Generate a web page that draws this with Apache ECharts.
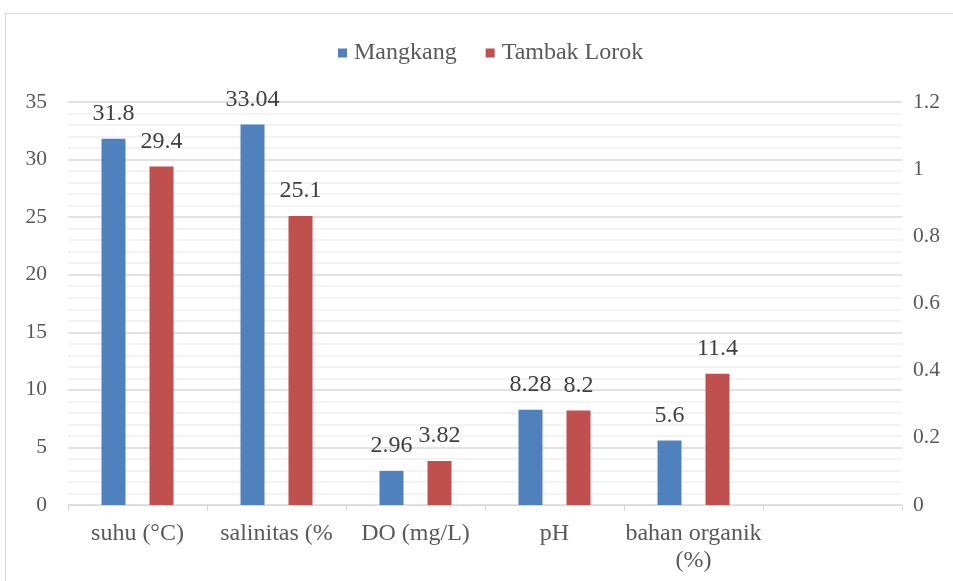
<!DOCTYPE html>
<html>
<head>
<meta charset="utf-8">
<script src="https://cdn.jsdelivr.net/npm/echarts@6/dist/echarts.min.js"></script>
<style>
  html, body { margin: 0; padding: 0; background: #fff; }
  #wrap { position: relative; width: 953px; height: 581px; overflow: hidden; }
  #frame { position: absolute; left: 5px; top: 13px; width: 960px; height: 600px; border: 1px solid #d9d9d9; box-sizing: border-box; }
  #chart { position: absolute; left: 0; top: 0; width: 953px; height: 581px; }
</style>
</head>
<body>
<div id="wrap">
  <div id="frame"></div>
  <div id="chart"></div>
</div>
<script>
  // data
  var categories = ['suhu (°C)', 'salinitas (%', 'DO (mg/L)', 'pH', 'bahan organik\n(%)', '']
  var mangkang = [31.8, 33.04, 2.96, 8.28, 5.6, null]
  var tambakLorok = [29.4, 25.1, 3.82, 8.2, 11.4, null]
  var leftTicks = { min: 0, max: 35, interval: 5 }
  var rightTicks = { min: 0, max: 1.2, interval: 0.2 }

  var font = 'Liberation Serif'
  var textColor = '#595959'
  var fs = 24      // legend, category and data labels
  var axisFs = 21.5 // value axis labels

  var chart = echarts.init(document.getElementById('chart'))
  chart.setOption({
    animation: false,
    textStyle: { fontFamily: font, color: textColor },
    legend: {
      top: 36,
      left: 333,
      icon: 'rect',
      itemWidth: 9,
      itemHeight: 9,
      itemGap: 29,
      textStyle: { fontFamily: font, fontSize: fs, color: textColor, padding: [0, 0, 0, 2] },
      data: ['Mangkang', 'Tambak Lorok']
    },
    grid: { left: 68, right: 51, top: 102, bottom: 76 },
    xAxis: {
      type: 'category',
      data: categories,
      boundaryGap: true,
      axisLine: { lineStyle: { color: '#d9d9d9', width: 1 } },
      axisTick: { show: true, length: 6, lineStyle: { color: '#d9d9d9' } },
      axisLabel: { fontFamily: font, fontSize: fs, color: textColor, margin: 15, lineHeight: 27, interval: 0 }
    },
    yAxis: [
      {
        type: 'value',
        min: leftTicks.min,
        max: leftTicks.max,
        interval: leftTicks.interval,
        axisLine: { show: false },
        axisTick: { show: false },
        axisLabel: { fontFamily: font, fontSize: axisFs, color: textColor, margin: 21 },
        splitLine: { lineStyle: { color: '#d9d9d9', width: 1.5 } },
        minorTick: { show: false, splitNumber: 5 },
        minorSplitLine: { show: true, lineStyle: { color: '#f0f0f0', width: 1.5 } }
      },
      {
        type: 'value',
        min: rightTicks.min,
        max: rightTicks.max,
        interval: rightTicks.interval,
        axisLine: { show: false },
        axisTick: { show: false },
        splitLine: { show: false },
        axisLabel: { fontFamily: font, fontSize: axisFs, color: textColor, margin: 11 }
      }
    ],
    series: [
      {
        name: 'Mangkang',
        type: 'bar',
        data: mangkang,
        barWidth: 24,
        barGap: '100%',
        itemStyle: { color: '#4F81BD' },
        label: { show: true, position: 'top', distance: 13, fontFamily: font, fontSize: fs, color: '#404040' }
      },
      {
        name: 'Tambak Lorok',
        type: 'bar',
        data: tambakLorok,
        barWidth: 24,
        barGap: '100%',
        itemStyle: { color: '#C0504D' },
        label: { show: true, position: 'top', distance: 13, fontFamily: font, fontSize: fs, color: '#404040' }
      }
    ]
  })
</script>
</body>
</html>
